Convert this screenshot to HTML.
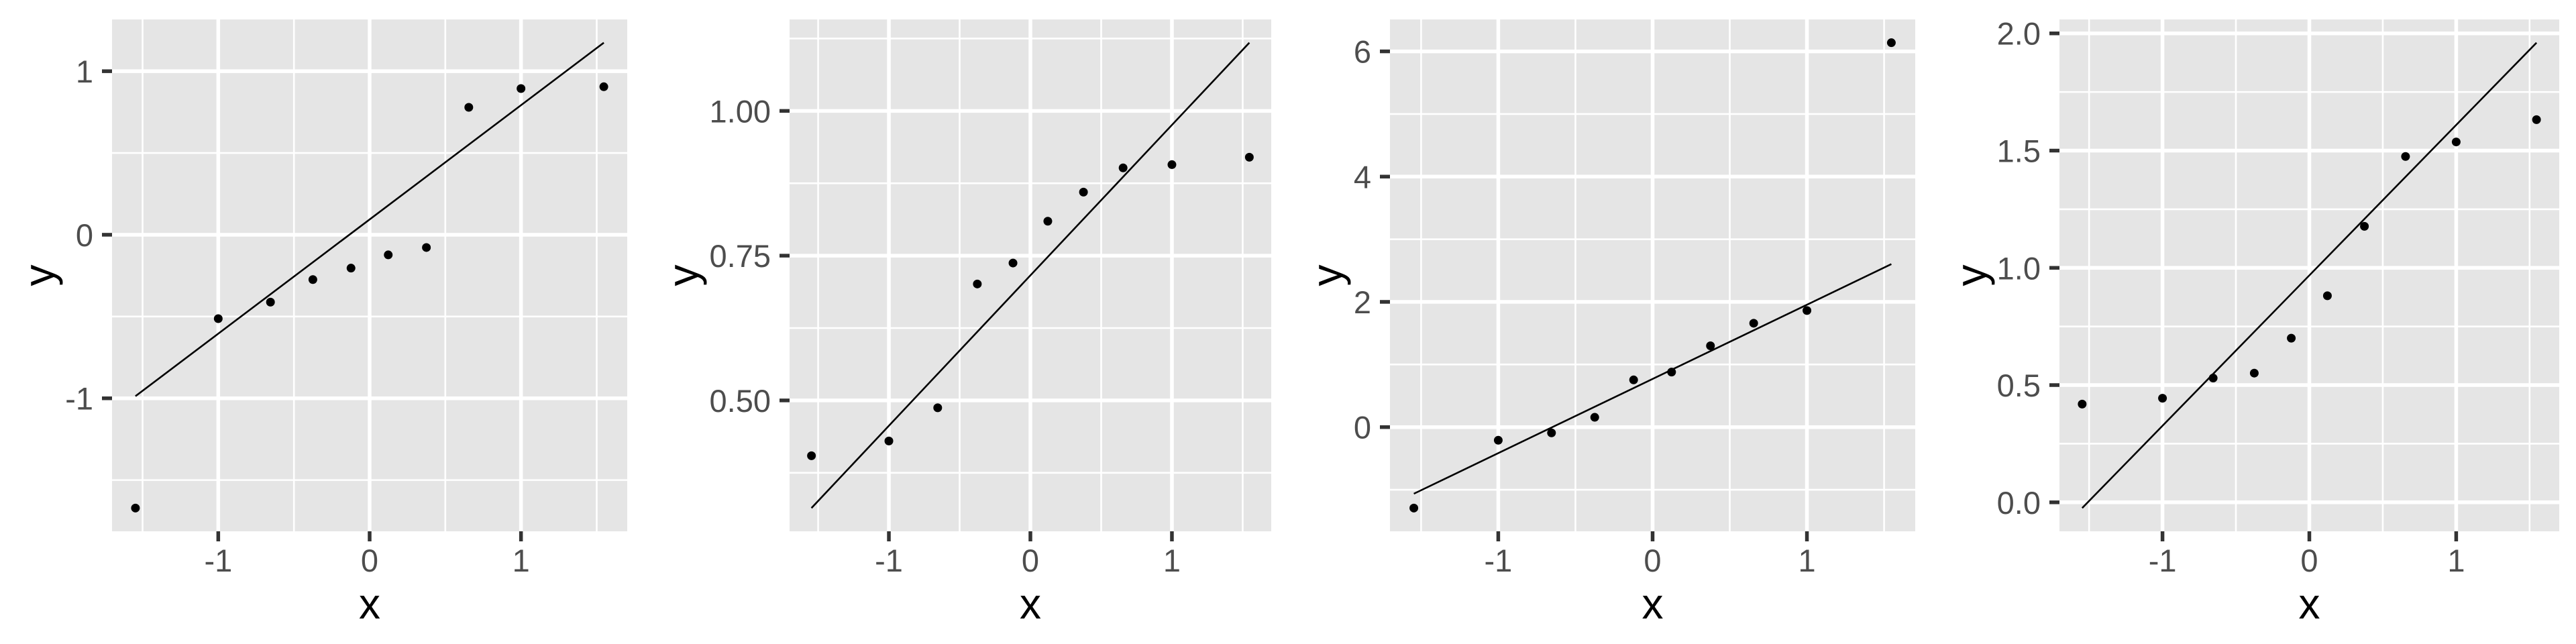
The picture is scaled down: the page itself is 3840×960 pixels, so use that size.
<!DOCTYPE html>
<html><head><meta charset="utf-8">
<style>
html,body{margin:0;padding:0;background:#fff;}
svg{display:block;font-family:"Liberation Sans",Arial,sans-serif;}
</style></head>
<body>
<svg id="chart" width="3840" height="960" viewBox="0 0 3840 960" xmlns="http://www.w3.org/2000/svg"></svg>
<script>
// theoretical normal quantiles (shared x values)
const xQuantiles = [-1.547, -1.000, -0.655, -0.375, -0.123, 0.123, 0.375, 0.655, 1.000, 1.547];
// sample values per panel
const sample1 = [-1.671, -0.513, -0.412, -0.274, -0.204, -0.123, -0.078, 0.779, 0.894, 0.905];
const sample2 = [0.4044, 0.4299, 0.4873, 0.7011, 0.7373, 0.8095, 0.8598, 0.9016, 0.9072, 0.9200];
const sample3 = [-1.292, -0.210, -0.092, 0.157, 0.754, 0.879, 1.298, 1.659, 1.862, 6.138];
const sample4 = [0.419, 0.444, 0.530, 0.551, 0.700, 0.881, 1.177, 1.475, 1.537, 1.632];
// axis tick values
const xTicks = [-1, 0, 1];
const xTickLabels = ["-1", "0", "1"];
const yTicks1 = [-1, 0, 1];
const yTickLabels1 = ["-1", "0", "1"];
const yTicks2 = [0.5, 0.75, 1.0];
const yTickLabels2 = ["0.50", "0.75", "1.00"];
const yTicks3 = [0, 2, 4, 6];
const yTickLabels3 = ["0", "2", "4", "6"];
const yTicks4 = [0, 0.5, 1.0, 1.5, 2.0];
const yTickLabels4 = ["0.0", "0.5", "1.0", "1.5", "2.0"];

const panels = [
  {ys: sample1, yt: yTicks1, yl: yTickLabels1, off: 0,    left: 167},
  {ys: sample2, yt: yTicks2, yl: yTickLabels2, off: 960,  left: 217},
  {ys: sample3, yt: yTicks3, yl: yTickLabels3, off: 1920, left: 152},
  {ys: sample4, yt: yTicks4, yl: yTickLabels4, off: 2880, left: 190}
];
const NS = "http://www.w3.org/2000/svg";
const svg = document.getElementById('chart');
function mk(tag, attrs, parent){
  const e = document.createElementNS(NS, tag);
  for (const k in attrs) e.setAttribute(k, attrs[k]);
  parent.appendChild(e);
  return e;
}
function q7(s, p){
  const h = (s.length - 1) * p, lo = Math.floor(h);
  return s[lo] + (h - lo) * (s[lo + 1] - s[lo]);
}
const TOP = 29, BOT = 792, RIGHT = 935;
panels.forEach((P, pi) => {
  const g = mk('g', {transform: 'translate(' + P.off + ',0)'}, svg);
  
  
  const ys = P.ys;
  // qq line through quartiles
  const zq = 0.6745;
  const q1 = q7(ys, 0.25), q3 = q7(ys, 0.75);
  const slope = (q3 - q1) / (2 * zq), icpt = (q1 + q3) / 2;
  const xmin = Math.min(...xQuantiles), xmax = Math.max(...xQuantiles);
  const l0 = icpt + slope * xmin, l1 = icpt + slope * xmax;
  const ymn = Math.min(...ys, l0, l1), ymx = Math.max(...ys, l0, l1);
  const xr = xmax - xmin, yr = ymx - ymn;
  const xlo = xmin - 0.05 * xr, xhi = xmax + 0.05 * xr;
  const ylo = ymn - 0.05 * yr, yhi = ymx + 0.05 * yr;
  const L = P.left;
  const sx = v => L + (v - xlo) / (xhi - xlo) * (RIGHT - L);
  const sy = v => BOT - (v - ylo) / (yhi - ylo) * (BOT - TOP);
  const bg = mk('rect', {x: L, y: TOP, width: RIGHT - L, height: BOT - TOP, fill: '#E5E5E5'}, g);
  
  
  // minor grid
  const xs = xTicks;
  const xMinor = [xs[0] - 0.5].concat(xs.map(v => v + 0.5));
  xMinor.forEach(v => { if (v > xlo && v < xhi) mk('line', {x1: sx(v), x2: sx(v), y1: TOP, y2: BOT, stroke: '#fff', 'stroke-width': 2.6}, g); });
  const yt = P.yt, ystep = yt[1] - yt[0];
  const yMinor = [yt[0] - ystep / 2].concat(yt.map(v => v + ystep / 2));
  yMinor.forEach(v => { if (v > ylo && v < yhi) mk('line', {x1: L, x2: RIGHT, y1: sy(v), y2: sy(v), stroke: '#fff', 'stroke-width': 2.6}, g); });
  // major grid, ticks, labels
  xs.forEach((v, i) => {
    mk('line', {x1: sx(v), x2: sx(v), y1: TOP, y2: BOT, stroke: '#fff', 'stroke-width': 5.5}, g);
    mk('line', {x1: sx(v), x2: sx(v), y1: BOT, y2: BOT + 15, stroke: '#333', 'stroke-width': 5.5}, g);
    const t = mk('text', {x: sx(v), y: 852, 'text-anchor': 'middle', 'font-size': 47, fill: '#4D4D4D'}, g);
    t.textContent = xTickLabels[i];
    
    
  });
  yt.forEach((v, i) => {
    mk('line', {x1: L, x2: RIGHT, y1: sy(v), y2: sy(v), stroke: '#fff', 'stroke-width': 5.5}, g);
    mk('line', {x1: L - 15, x2: L, y1: sy(v), y2: sy(v), stroke: '#333', 'stroke-width': 5.5}, g);
    const t = mk('text', {x: L - 28, y: sy(v) + 17, 'text-anchor': 'end', 'font-size': 47, fill: '#4D4D4D'}, g);
    t.textContent = P.yl[i];
    
    
  });
  // qq line
  const ln = mk('line', {x1: sx(xmin), y1: sy(l0), x2: sx(xmax), y2: sy(l1), stroke: '#000', 'stroke-width': 2.6}, g);
  
  
  // points
  xQuantiles.forEach((xv, i) => {
    const c = mk('circle', {cx: sx(xv), cy: sy(ys[i]), r: 6.5, fill: '#000'}, g);
    
    
  });
  // axis titles
  const xt = mk('text', {x: (L + RIGHT) / 2, y: 922, 'text-anchor': 'middle', 'font-size': 64, fill: '#000'}, g);
  xt.textContent = 'x';
  
  
  const cy = (TOP + BOT) / 2;
  const yt2 = mk('text', {x: 0, y: 0, 'text-anchor': 'middle', 'font-size': 64, fill: '#000', transform: 'translate(80,' + cy + ') rotate(-90)'}, g);
  yt2.textContent = 'y';
  
  
});
</script>
</body></html>
